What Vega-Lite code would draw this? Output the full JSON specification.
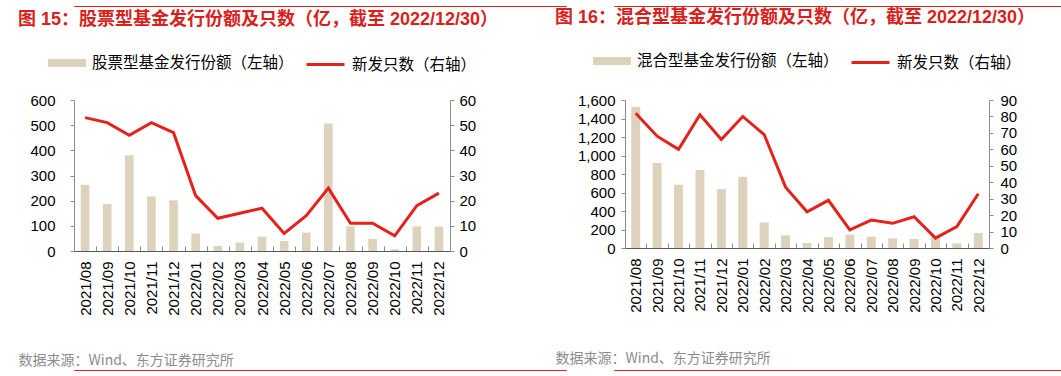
{
  "$schema": "https://vega.github.io/schema/vega-lite/v6.json",
  "padding": {"left": 18, "top": 5, "right": 0, "bottom": 0},
  "background": "white",
  "spacing": 2,
  "config": {
    "view": {"stroke": null},
    "font": "Liberation Sans, Noto Sans CJK SC",
    "legend": {"layout": {"top": {"anchor": "middle", "margin": 11}}},
    "axisQuantitative": {"tickSize": 4, "domainColor": "#8C8C8C", "tickColor": "#8C8C8C", "grid": false, "labelFont": "Liberation Sans", "labelFontSize": 15, "labelColor": "#000000", "title": null}
  },
  "resolve": {"scale": {"fill": "independent", "stroke": "independent"}},
  "datasets": {
    "equity": [
      {"month": "2021/08", "amount": 263, "count": 53},
      {"month": "2021/09", "amount": 187, "count": 51},
      {"month": "2021/10", "amount": 380, "count": 46},
      {"month": "2021/11", "amount": 217, "count": 51},
      {"month": "2021/12", "amount": 201, "count": 47},
      {"month": "2022/01", "amount": 69, "count": 22},
      {"month": "2022/02", "amount": 20, "count": 13},
      {"month": "2022/03", "amount": 34, "count": 15},
      {"month": "2022/04", "amount": 57, "count": 17},
      {"month": "2022/05", "amount": 40, "count": 7},
      {"month": "2022/06", "amount": 73, "count": 14},
      {"month": "2022/07", "amount": 507, "count": 25},
      {"month": "2022/08", "amount": 98, "count": 11},
      {"month": "2022/09", "amount": 48, "count": 11},
      {"month": "2022/10", "amount": 7, "count": 6},
      {"month": "2022/11", "amount": 98, "count": 18},
      {"month": "2022/12", "amount": 97, "count": 23}
    ],
    "mixed": [
      {"month": "2021/08", "amount": 1525, "count": 82},
      {"month": "2021/09", "amount": 920, "count": 68},
      {"month": "2021/10", "amount": 685, "count": 60},
      {"month": "2021/11", "amount": 843, "count": 81},
      {"month": "2021/12", "amount": 637, "count": 66},
      {"month": "2022/01", "amount": 770, "count": 80},
      {"month": "2022/02", "amount": 277, "count": 69},
      {"month": "2022/03", "amount": 137, "count": 37},
      {"month": "2022/04", "amount": 54, "count": 22},
      {"month": "2022/05", "amount": 119, "count": 29},
      {"month": "2022/06", "amount": 144, "count": 11},
      {"month": "2022/07", "amount": 122, "count": 17},
      {"month": "2022/08", "amount": 104, "count": 15},
      {"month": "2022/09", "amount": 97, "count": 19},
      {"month": "2022/10", "amount": 140, "count": 6},
      {"month": "2022/11", "amount": 50, "count": 13},
      {"month": "2022/12", "amount": 162, "count": 33}
    ]
  },
  "vconcat": [
    {
      "spacing": 46,
      "hconcat": [
        {"width": 492, "height": 0.01, "data": {"values": []}, "mark": "point", "view": {"stroke": "#E3201B", "strokeWidth": 1}},
        {"width": 491, "height": 0.01, "data": {"values": []}, "mark": "point", "view": {"stroke": "#E3201B", "strokeWidth": 1}}
      ]
    },
    {
      "spacing": 56,
      "resolve": {"scale": {"fill": "independent", "stroke": "independent"}},
      "hconcat": [
        {
          "width": 376,
          "height": 151,
          "title": {"text": "图 15：股票型基金发行份额及只数（亿，截至 2022/12/30）", "anchor": "start", "frame": "group", "dx": -56, "offset": 15, "color": "#D9211C", "fontSize": 18, "fontWeight": "bold", "font": "Liberation Sans, Noto Sans CJK SC"},
          "data": {"name": "equity"},
          "encoding": {
            "x": {
              "field": "month", "type": "ordinal", "sort": null,
              "scale": {"paddingInner": 0, "paddingOuter": 0},
              "axis": {
                "title": "数据来源：Wind、东方证券研究所", "titleAnchor": "start", "titleAlign": "left", "titleX": -56, "titleY": 109, "titleBaseline": "middle",
                "titleFont": "Noto Sans CJK SC", "titleFontSize": 14, "titleFontWeight": "normal", "titleColor": "#8C8C8C",
                "labelAngle": -90, "labelFontSize": 15, "labelColor": "#000000", "labelFont": "Liberation Sans", "labelPadding": 15,
                "tickSize": -5, "tickBand": "extent", "tickColor": "#8C8C8C", "domainColor": "#595959", "labelOverlap": false
              }
            }
          },
          "layer": [
            {
              "mark": {"type": "bar", "width": {"band": 0.39}},
              "encoding": {
                "y": {"field": "amount", "type": "quantitative", "scale": {"domain": [0, 600]}, "axis": {"orient": "left", "values": [0, 100, 200, 300, 400, 500, 600], "labelPadding": 15}},
                "fill": {"datum": "股票型基金发行份额（左轴）", "type": "nominal", "scale": {"range": ["#DDD3BC"]},
                  "legend": {"title": null, "orient": "top", "symbolType": "M-1,-0.21H1V0.21H-1Z", "symbolSize": 1444, "symbolStrokeWidth": 0, "labelFont": "Noto Sans CJK SC", "labelFontSize": 15.5, "labelColor": "#000000", "labelOffset": 6, "offset": 27, "labelLimit": 400}}
              }
            },
            {
              "mark": {"type": "line", "strokeWidth": 3},
              "encoding": {
                "y": {"field": "count", "type": "quantitative", "scale": {"domain": [0, 60]}, "axis": {"orient": "right", "values": [0, 10, 20, 30, 40, 50, 60], "labelPadding": 5}},
                "stroke": {"datum": "新发只数（右轴）", "type": "nominal", "scale": {"range": ["#E3231B"]},
                  "legend": {"title": null, "orient": "top", "symbolType": "M-1,0H1", "symbolSize": 1444, "symbolStrokeWidth": 3, "labelFont": "Noto Sans CJK SC", "labelFontSize": 15.5, "labelColor": "#000000", "labelOffset": 6, "offset": 27, "labelLimit": 400}}
              }
            }
          ],
          "resolve": {"scale": {"y": "independent", "fill": "independent", "stroke": "independent"}}
        },
        {
          "width": 364,
          "height": 148,
          "title": {"text": "图 16：混合型基金发行份额及只数（亿，截至 2022/12/30）", "anchor": "start", "frame": "group", "dx": -70, "offset": 15, "color": "#D9211C", "fontSize": 18, "fontWeight": "bold", "font": "Liberation Sans, Noto Sans CJK SC"},
          "data": {"name": "mixed"},
          "encoding": {
            "x": {
              "field": "month", "type": "ordinal", "sort": null,
              "scale": {"paddingInner": 0, "paddingOuter": 0},
              "axis": {
                "title": "数据来源：Wind、东方证券研究所", "titleAnchor": "start", "titleAlign": "left", "titleX": -70, "titleY": 110, "titleBaseline": "middle",
                "titleFont": "Noto Sans CJK SC", "titleFontSize": 14, "titleFontWeight": "normal", "titleColor": "#8C8C8C",
                "labelAngle": -90, "labelFontSize": 15, "labelColor": "#000000", "labelFont": "Liberation Sans", "labelPadding": 15,
                "tickSize": -5, "tickBand": "extent", "tickColor": "#8C8C8C", "domainColor": "#595959", "labelOverlap": false
              }
            }
          },
          "layer": [
            {
              "mark": {"type": "bar", "width": {"band": 0.42}},
              "encoding": {
                "y": {"field": "amount", "type": "quantitative", "scale": {"domain": [0, 1600]}, "axis": {"orient": "left", "values": [0, 200, 400, 600, 800, 1000, 1200, 1400, 1600], "format": ",d", "labelPadding": 6}},
                "fill": {"datum": "混合型基金发行份额（左轴）", "type": "nominal", "scale": {"range": ["#DDD3BC"]},
                  "legend": {"title": null, "orient": "top", "symbolType": "M-1,-0.21H1V0.21H-1Z", "symbolSize": 1444, "symbolStrokeWidth": 0, "labelFont": "Noto Sans CJK SC", "labelFontSize": 15.5, "labelColor": "#000000", "labelOffset": 6, "offset": 29, "labelLimit": 400}}
              }
            },
            {
              "mark": {"type": "line", "strokeWidth": 3},
              "encoding": {
                "y": {"field": "count", "type": "quantitative", "scale": {"domain": [0, 90]}, "axis": {"orient": "right", "values": [0, 10, 20, 30, 40, 50, 60, 70, 80, 90], "labelPadding": 7}},
                "stroke": {"datum": "新发只数（右轴）", "type": "nominal", "scale": {"range": ["#E3231B"]},
                  "legend": {"title": null, "orient": "top", "symbolType": "M-1,0H1", "symbolSize": 1444, "symbolStrokeWidth": 3, "labelFont": "Noto Sans CJK SC", "labelFontSize": 15.5, "labelColor": "#000000", "labelOffset": 6, "offset": 29, "labelLimit": 400}}
              }
            }
          ],
          "resolve": {"scale": {"y": "independent", "fill": "independent", "stroke": "independent"}}
        }
      ]
    },
    {
      "spacing": 46,
      "hconcat": [
        {"width": 492, "height": 0.01, "data": {"values": []}, "mark": "point", "view": {"stroke": "#E3201B", "strokeWidth": 1}},
        {"width": 491, "height": 0.01, "data": {"values": []}, "mark": "point", "view": {"stroke": "#E3201B", "strokeWidth": 1}}
      ]
    }
  ]
}
